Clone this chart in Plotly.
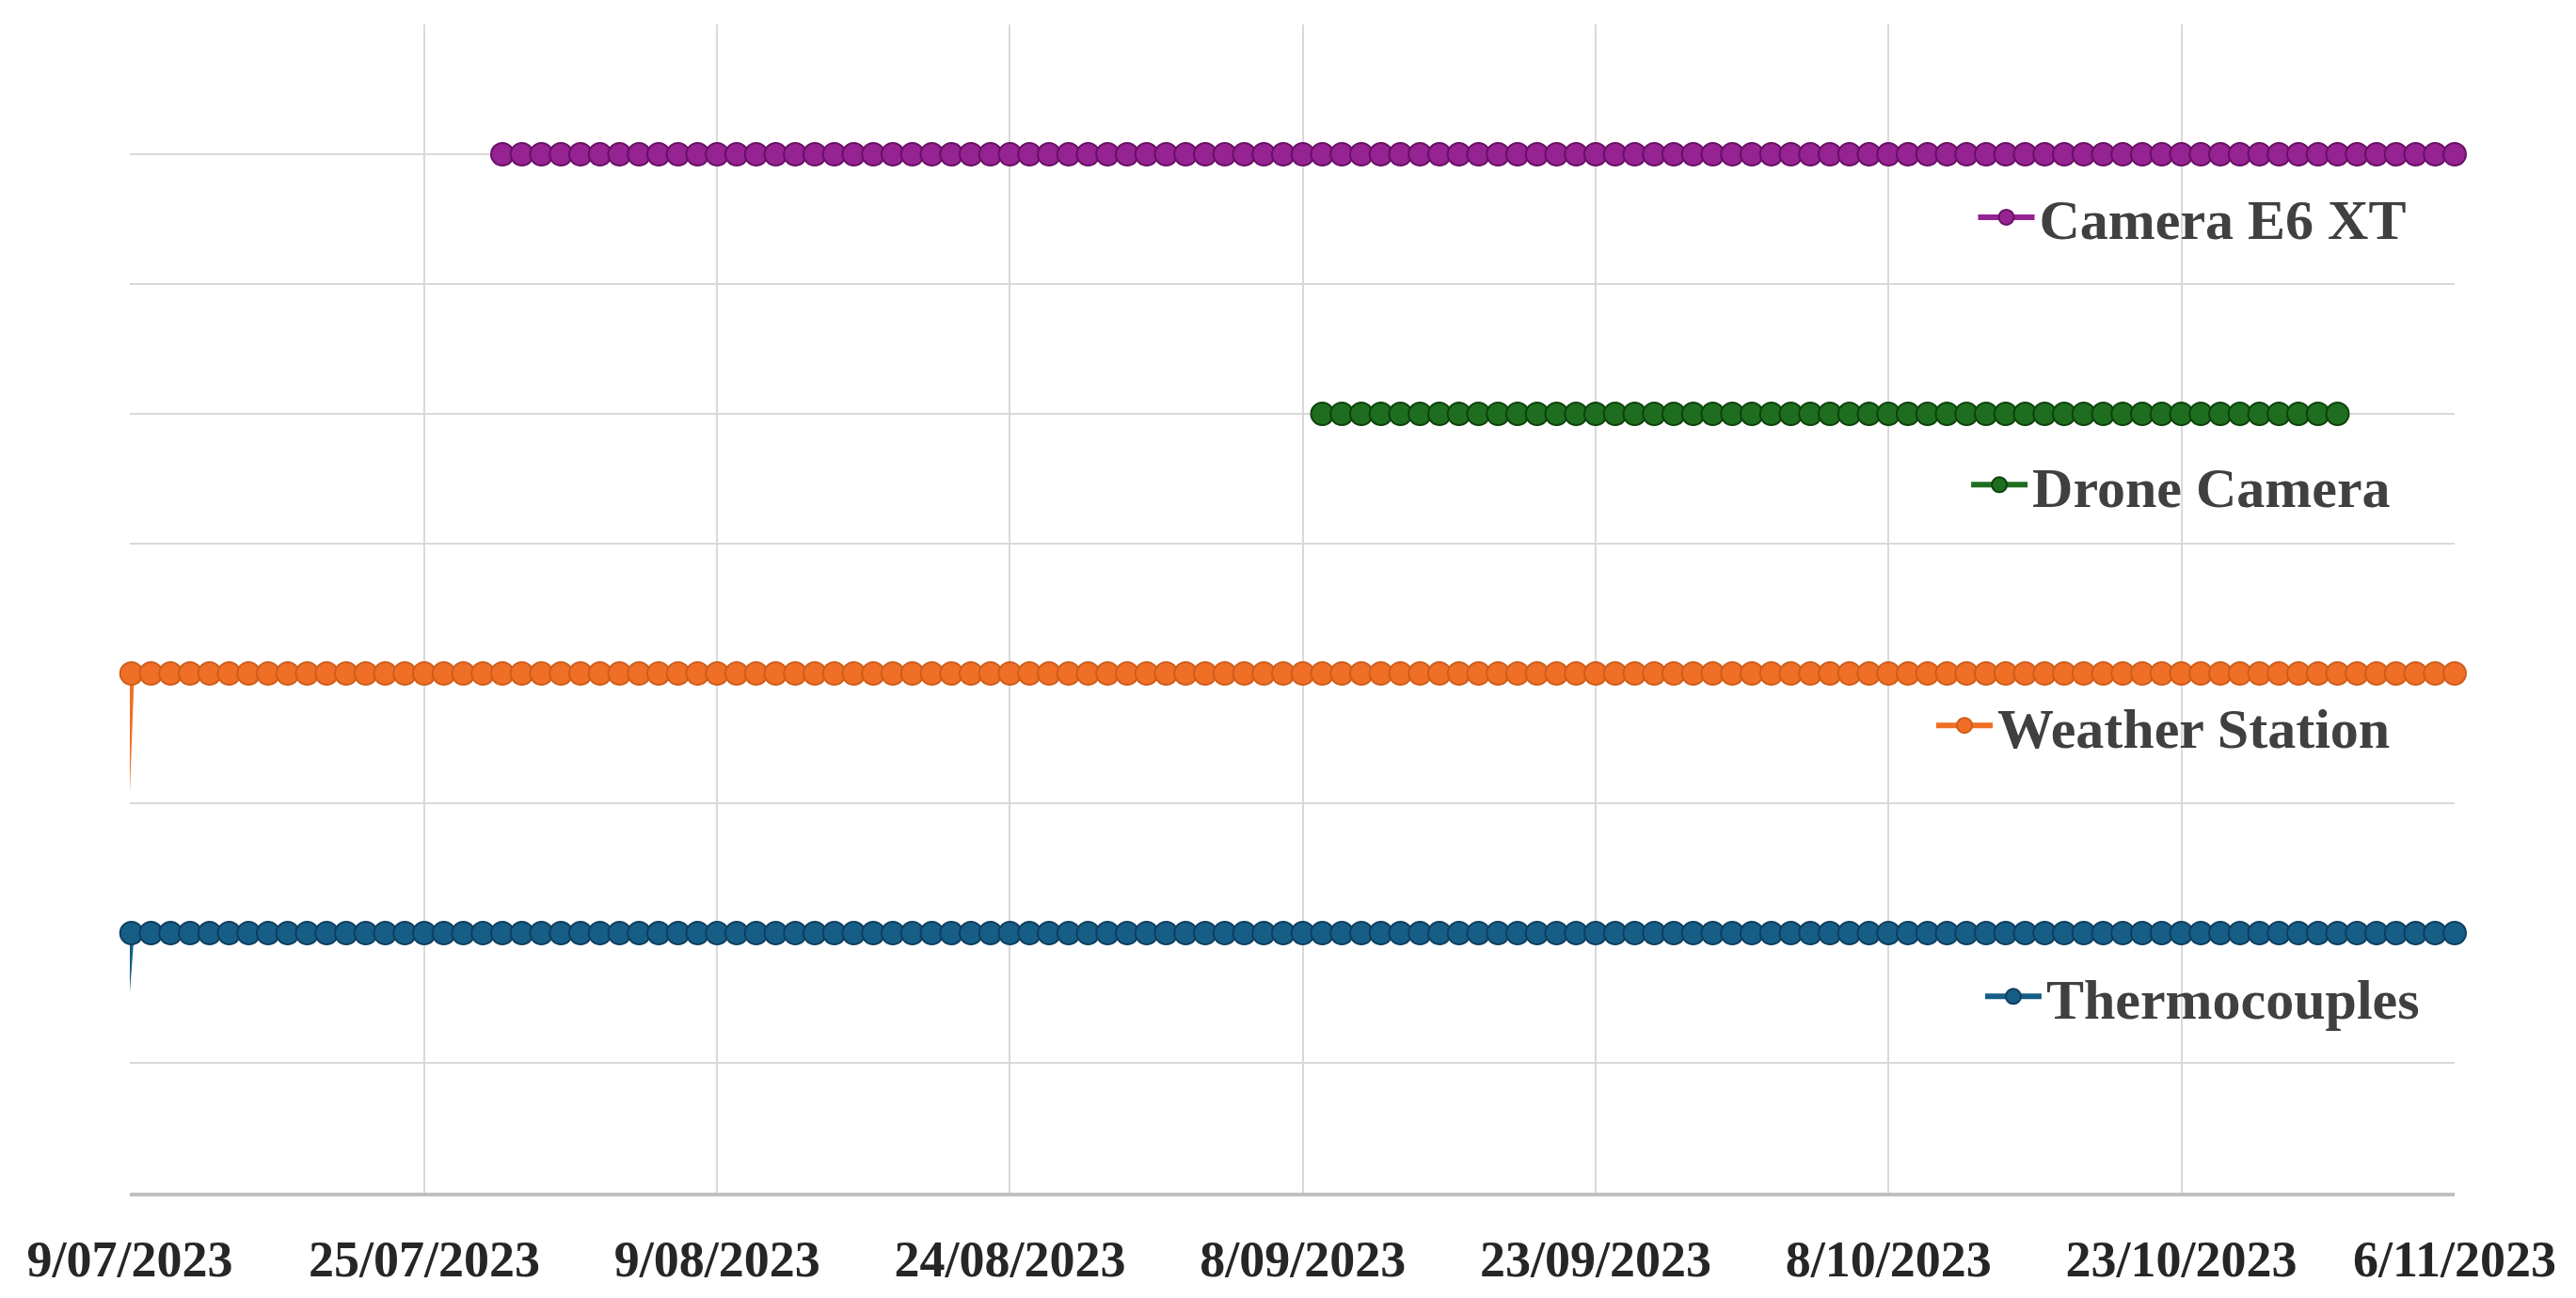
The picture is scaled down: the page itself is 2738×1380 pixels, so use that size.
"""Sensor deployment timeline: daily readings per instrument, Jul-Nov 2023."""

import pandas as pd
import plotly.graph_objects as go

# one row per instrument (bottom to top of the chart)
SENSORS = ["Thermocouples", "Weather Station", "Drone Camera", "Camera E6 XT"]
LEVELS = [2, 4, 6, 8]
FIRST_DAY = ["2023-07-10", "2023-07-10", "2023-09-09", "2023-07-29"]
LAST_DAY = ["2023-11-06", "2023-11-06", "2023-10-31", "2023-11-06"]
# instruments logged a zero reading on setup day
ZERO_DAY = ["2023-07-09", "2023-07-09", None, None]

FILL = ["#175e87", "#f06f26", "#1f6e1f", "#952391"]
EDGE = ["#0f3f5f", "#cf5d1c", "#0d430d", "#691067"]

TICK_VALS = [
    "2023-07-09 22:00", "2023-07-25", "2023-08-09", "2023-08-24", "2023-09-08",
    "2023-09-23", "2023-10-08", "2023-10-23", "2023-11-06",
]
TICK_TEXT = [
    "9/07/2023", "25/07/2023", "9/08/2023", "24/08/2023", "8/09/2023",
    "23/09/2023", "8/10/2023", "23/10/2023", "6/11/2023",
]

# label (legend) anchor per instrument, paper coords
LABEL_X = [0.796, 0.775, 0.790, 0.793]
LABEL_Y = [0.168, 0.400, 0.606, 0.835]

SERIF = "Liberation Serif, Times New Roman, serif"

fig = go.Figure()
for i, name in enumerate(SENSORS):
    days = list(pd.date_range(FIRST_DAY[i], LAST_DAY[i], freq="D"))
    vals = [LEVELS[i]] * len(days)
    if ZERO_DAY[i]:
        days = [pd.Timestamp(ZERO_DAY[i])] + days
        vals = [0] + vals
    sizes = [0 if v == 0 else 24 for v in vals]
    lg = "legend" if i == 0 else f"legend{i + 1}"
    fig.add_trace(
        go.Scatter(
            x=days,
            y=vals,
            name=name,
            mode="lines+markers",
            line={"color": FILL[i], "width": 6},
            marker={
                "size": sizes,
                "color": FILL[i],
                "opacity": 1,
                "line": {"color": EDGE[i], "width": 2},
            },
            cliponaxis=False,
            legend=lg,
        )
    )

legend_style = {
    "font": {"family": SERIF, "size": 60, "color": "#404040", "weight": "bold"},
    "bgcolor": "rgba(0,0,0,0)",
    "xanchor": "left",
    "yanchor": "middle",
    "itemwidth": 60,
    "tracegroupgap": 0,
}
layout_legends = {}
for i in range(len(SENSORS)):
    key = "legend" if i == 0 else f"legend{i + 1}"
    layout_legends[key] = dict(legend_style, x=LABEL_X[i], y=LABEL_Y[i])

# the page body keeps its default 8px margin, so the figure is 16px smaller
fig.update_layout(
    width=2722,
    height=1364,
    paper_bgcolor="white",
    plot_bgcolor="white",
    margin={"l": 130, "r": 121, "t": 18, "b": 104},
    showlegend=True,
    **layout_legends,
)
fig.update_xaxes(
    type="date",
    range=[TICK_VALS[0], TICK_VALS[-1]],
    tickvals=TICK_VALS,
    ticktext=TICK_TEXT,
    tickfont={"family": SERIF, "size": 54, "color": "#262626", "weight": "bold"},
    ticks="",
    ticklabelstandoff=20,
    automargin=False,
    showgrid=True,
    gridcolor="#d9d9d9",
    gridwidth=2,
    showline=True,
    linecolor="#bfbfbf",
    linewidth=4,
    zeroline=False,
)
fig.update_yaxes(
    range=[0, 9],
    dtick=1,
    showticklabels=False,
    showgrid=True,
    gridcolor="#d9d9d9",
    gridwidth=2,
    zeroline=False,
    showline=False,
)

fig.write_html("out.html")
